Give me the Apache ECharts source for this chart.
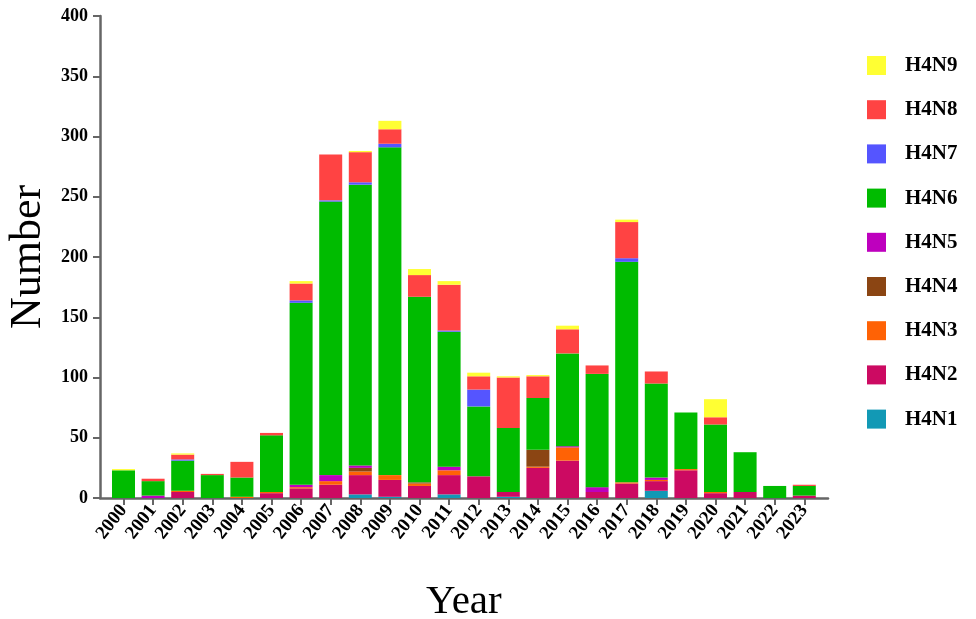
<!DOCTYPE html>
<html>
<head>
<meta charset="utf-8">
<script src="https://cdn.jsdelivr.net/npm/echarts@6/dist/echarts.min.js"></script>
<style>html,body{margin:0;padding:0;background:#fff;}#c{width:976px;height:619px;}</style>
</head>
<body>
<div id="c"></div>
<script>
const years = ['2000','2001','2002','2003','2004','2005','2006','2007','2008','2009','2010','2011','2012','2013','2014','2015','2016','2017','2018','2019','2020','2021','2022','2023'];
const yTicks = [0,50,100,150,200,250,300,350,400];
const H4N1 = [0,0,0,0,0,0,0,0,3,1,0,3,0,1,0,0,0,0,6,0,0,0,0,0];
const H4N2 = [0,0,5,0,0,4,8,11,16,14,10,16,18,4,25,31,5,12,8,23,4,5,0,2];
const H4N3 = [0,0,1,0,1,1,1,3,3,4,2,4,0,0,1,11,0,1,1,1,1,0,0,0];
const H4N4 = [0,0,0,0,0,0,0,0,3,0,1,0,0,0,14,0,0,0,0,0,0,0,0,0];
const H4N5 = [0,2,0,0,0,0,2,5,2,0,0,3,0,0,0,1,4,0,2,0,0,0,0,0];
const H4N6 = [23,12,25,19,16,47,151,227,233,272,154,112,58,53,43,77,94,183,78,47,56,33,10,8];
const H4N7 = [0,0,1,0,0,0,2,1,2,3,0,1,14,0,0,0,0,3,0,0,0,0,0,0];
const H4N8 = [0,2,4,1,13,2,14,38,25,12,18,38,11,42,18,20,7,30,10,0,6,0,0,1];
const H4N9 = [1,0,1,0,0,0,2,0,1,7,5,3,3,1,1,3,0,2,0,0,15,0,0,0];

const names = ['H4N1','H4N2','H4N3','H4N4','H4N5','H4N6','H4N7','H4N8','H4N9'];
const values = [H4N1,H4N2,H4N3,H4N4,H4N5,H4N6,H4N7,H4N8,H4N9];
const colors = ['#1299B5','#CC0A62','#FF6205','#8B4513','#BE00BE','#00BB00','#5555FF','#FF4343','#FFFF33'];

const axisColor = '#666';
const serif = '"Liberation Serif","Times New Roman",serif';

const chart = echarts.init(document.getElementById('c'));
chart.setOption({
  animation: false,
  grid: [
    {left: 108.7, width: 710.4, top: 16, height: 482, containLabel: false, outerBoundsMode: 'none'},
    {left: 100, width: 728, top: 16, height: 482, containLabel: false, outerBoundsMode: 'none'}
  ],
  legend: {
    orient: 'vertical',
    left: 862,
    top: 50,
    itemWidth: 19,
    itemHeight: 19,
    itemGap: 23.2,
    icon: 'rect',
    data: names.slice().reverse(),
    textStyle: {fontFamily: serif, fontWeight: 'bold', fontSize: 21, color: '#000', padding: [0,0,0,14]}
  },
  xAxis: [
    {
      type: 'category', gridIndex: 0, data: years,
      axisLine: {show: false},
      axisTick: {show: true, alignWithLabel: true, length: 7, lineStyle: {color: axisColor, width: 2}},
      axisLabel: {rotate: 52, interval: 0, fontFamily: serif, fontWeight: 'bold', fontSize: 19, color: '#000', margin: 9},
      name: 'Year', nameLocation: 'middle', nameGap: 84,
      nameTextStyle: {fontFamily: serif, fontSize: 41, color: '#000'}
    },
    {
      type: 'value', gridIndex: 1, min: 0, max: 1,
      axisLine: {show: true, onZero: false, lineStyle: {color: axisColor, width: 2.5}},
      axisTick: {show: false}, axisLabel: {show: false}, splitLine: {show: false}
    }
  ],
  yAxis: [
    {
      type: 'value', gridIndex: 0, min: 0, max: 400, interval: 50, offset: 8.7,
      axisLine: {show: true, lineStyle: {color: axisColor, width: 2.5}},
      axisTick: {show: true, length: 7, lineStyle: {color: axisColor, width: 2}},
      axisLabel: {fontFamily: serif, fontWeight: 'bold', fontSize: 18, color: '#000', margin: 12,
        formatter: v => yTicks.includes(v) ? String(v) : ''},
      splitLine: {show: false},
      name: 'Number', nameLocation: 'middle', nameGap: 48,
      nameTextStyle: {fontFamily: serif, fontSize: 44, color: '#000'}
    },
    {
      type: 'value', gridIndex: 1, show: false, min: 0, max: 1
    }
  ],
  series: names.map((n, i) => ({
    name: n, type: 'bar', stack: 'total', xAxisIndex: 0, yAxisIndex: 0,
    data: values[i], barWidth: 23,
    itemStyle: {color: colors[i]}
  }))
});
</script>
</body>
</html>
